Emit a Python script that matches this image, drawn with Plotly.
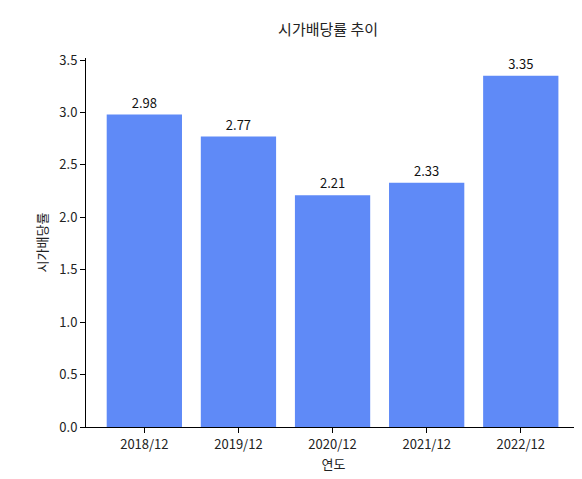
import plotly.graph_objects as go

years = ["2018/12", "2019/12", "2020/12", "2021/12", "2022/12"]
values = [2.98, 2.77, 2.21, 2.33, 3.35]
labels = ["2.98", "2.77", "2.21", "2.33", "3.35"]

font = "Noto Sans CJK KR"
fig = go.Figure(go.Bar(
    x=list(range(len(years))), y=values, width=0.8,
    marker=dict(color="#5f8af7", line=dict(width=0)),
    text=labels, textposition="outside", cliponaxis=False,
    textfont=dict(size=13, color="#111"),
))
fig.update_layout(
    width=582, height=479,
    margin=dict(l=78, r=9, t=50, b=60, autoexpand=False),
    paper_bgcolor="white", plot_bgcolor="white",
    font=dict(family=font, size=13, color="#222"),
    title=dict(text="시가배당률 추이", x=0.55, xanchor="center", y=0.965, font=dict(size=15)),
    showlegend=False, uniformtext=dict(mode="show", minsize=8),
)
fig.update_xaxes(
    tickmode="array", tickvals=list(range(len(years))), ticktext=years,
    range=[-0.62, 4.64], showline=True, linecolor="black", ticks="outside",
    ticklen=5, tickcolor="black", showgrid=False, zeroline=False, automargin=False,
    title=dict(text="연도", standoff=8, font=dict(size=13)),
)
fig.update_yaxes(
    range=[0, 3.52], dtick=0.5, tickformat=".1f", showline=True, linecolor="black",
    ticks="outside", ticklen=5, tickcolor="black", showgrid=False, zeroline=False, automargin=False,
    title=dict(text="시가배당률", standoff=8, font=dict(size=13)),
)
fig.write_html("out.html")
